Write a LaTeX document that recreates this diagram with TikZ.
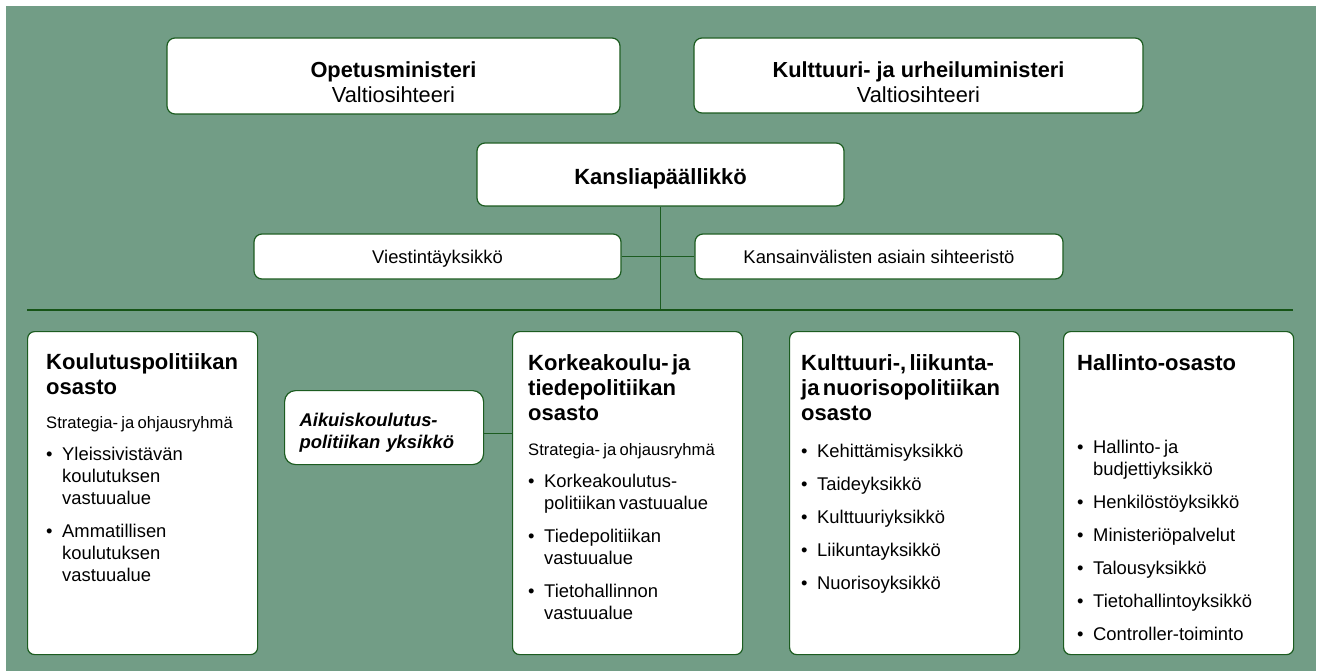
\documentclass[tikz,border=0pt]{standalone}
\usepackage{fontspec}
\setmainfont{Liberation Sans}
\definecolor{tausta}{RGB}{114,157,134}
\definecolor{reuna}{RGB}{28,92,32}
\definecolor{viivavari}{RGB}{22,84,22}
% tekstin osat osastojen laatikoissa
\newcommand{\otsikko}[1]{{\fontsize{22pt}{25pt}\selectfont\bfseries #1\par}}
\newcommand{\ryhma}[2]{\par\vspace{#1}{\fontsize{16.6pt}{20pt}\selectfont #2\par}}
\newcommand{\kohta}[2]{\par\vspace{#1}{\fontsize{18.4pt}{22pt}\selectfont\hangindent=16pt\hangafter=1\noindent\makebox[16pt][l]{\textbullet}#2\par}}
\begin{document}
\begin{tikzpicture}[x=1pt,y=-1pt,
    laatikko/.style={draw=reuna,fill=white,line width=1.2pt,rounded corners=8pt,inner sep=0pt},
    yla/.style={laatikko,font=\fontsize{21.8pt}{25pt}\selectfont,align=center,text height=54pt,text depth=0pt},
    pieni/.style={laatikko,font=\fontsize{18.4pt}{22pt}\selectfont,text height=14pt,text depth=0pt,minimum height=45pt,minimum width=367pt},
    osasto/.style={laatikko,rounded corners=7pt,anchor=north west,minimum width=230pt,minimum height=323pt},
    sisalto/.style={anchor=base west,inner sep=0pt,text width=212pt,align=left},
    viiva/.style={draw=reuna,line width=1pt}]
  \useasboundingbox (0,0) rectangle (1320,671);
  \fill[tausta] (6,6) rectangle (1316,671);

  % johto
  \node[yla,minimum width=453pt,minimum height=76pt] (ope) at (393.5,76) {\textbf{Opetusministeri}\\Valtiosihteeri};
  \node[yla,minimum width=449pt,minimum height=75pt] (kult) at (918.5,75.5) {\textbf{Kulttuuri- ja urheiluministeri}\\Valtiosihteeri};
  \node[laatikko,font=\fontsize{22pt}{25pt}\selectfont\bfseries,text height=20.5pt,text depth=0pt,minimum width=367pt,minimum height=63pt] (kans) at (660.5,174.5) {Kansliapäällikkö};
  \node[pieni] (viest) at (437.5,256.5) {Viestintäyksikkö};
  \node[pieni,minimum width=368pt] (kv) at (879,256.5) {Kansainvälisten asiain sihteeristö};

  \coordinate (vasen) at (27,310);
  \coordinate (oikea) at (1293,310);
  \draw[viiva] (kans.south) -- (kans.south |- vasen);
  \draw[viiva] (viest.east) -- (kv.west);
  \draw[draw=viivavari,line width=1.6pt] (vasen) -- (oikea);

  % osastot
  \node[osasto] (koulu) at (27,331) {};
  \node[osasto] (korkea) at (512,331) {};
  \node[osasto] (kuliku) at (789,331) {};
  \node[osasto] (hallinto) at (1063,331) {};

  \node[laatikko,rounded corners=11pt,anchor=north west,minimum width=199pt,minimum height=74pt,text width=169pt,text height=24pt,text depth=26pt,align=left,font=\fontsize{18.4pt}{22pt}\selectfont\bfseries\itshape] (aik) at (284,390) {Aikuiskoulutus-\\politiikan yksikkö};
  \draw[viiva] ([yshift=-6pt]aik.east) -- ([yshift=-6pt]aik.east -| korkea.west);

  \node[sisalto] (koulu-t) at ([shift={(19,38)}]koulu.north west) {%
    \otsikko{Koulutuspolitiikan\\osasto}%
    \ryhma{14pt}{Strategia- ja ohjausryhmä}%
    \kohta{10pt}{Yleissivistävän\newline koulutuksen\newline vastuualue}%
    \kohta{11pt}{Ammatillisen\newline koulutuksen\newline vastuualue}};
  \node[sisalto] (korkea-t) at ([shift={(16,39)}]korkea.north west) {%
    \otsikko{Korkeakoulu- ja\\tiedepolitiikan\\osasto}%
    \ryhma{15pt}{Strategia- ja ohjausryhmä}%
    \kohta{10pt}{Korkeakoulutus-\newline politiikan vastuualue}%
    \kohta{11pt}{Tiedepolitiikan\newline vastuualue}%
    \kohta{11pt}{Tietohallinnon\newline vastuualue}};
  \node[sisalto] (kuliku-t) at ([shift={(12,39)}]kuliku.north west) {%
    \otsikko{Kulttuuri-, liikunta-\\ja nuorisopolitiikan\\osasto}%
    \kohta{15pt}{Kehittämisyksikkö}%
    \kohta{11pt}{Taideyksikkö}%
    \kohta{11pt}{Kulttuuriyksikkö}%
    \kohta{11pt}{Liikuntayksikkö}%
    \kohta{11pt}{Nuorisoyksikkö}};
  \node[sisalto] (hallinto-t) at ([shift={(14,39)}]hallinto.north west) {%
    \otsikko{Hallinto-osasto}%
    \kohta{61pt}{Hallinto- ja\newline budjettiyksikkö}%
    \kohta{11pt}{Henkilöstöyksikkö}%
    \kohta{11pt}{Ministeriöpalvelut}%
    \kohta{11pt}{Talousyksikkö}%
    \kohta{11pt}{Tietohallintoyksikkö}%
    \kohta{11pt}{Controller-toiminto}};
\end{tikzpicture}
\end{document}
